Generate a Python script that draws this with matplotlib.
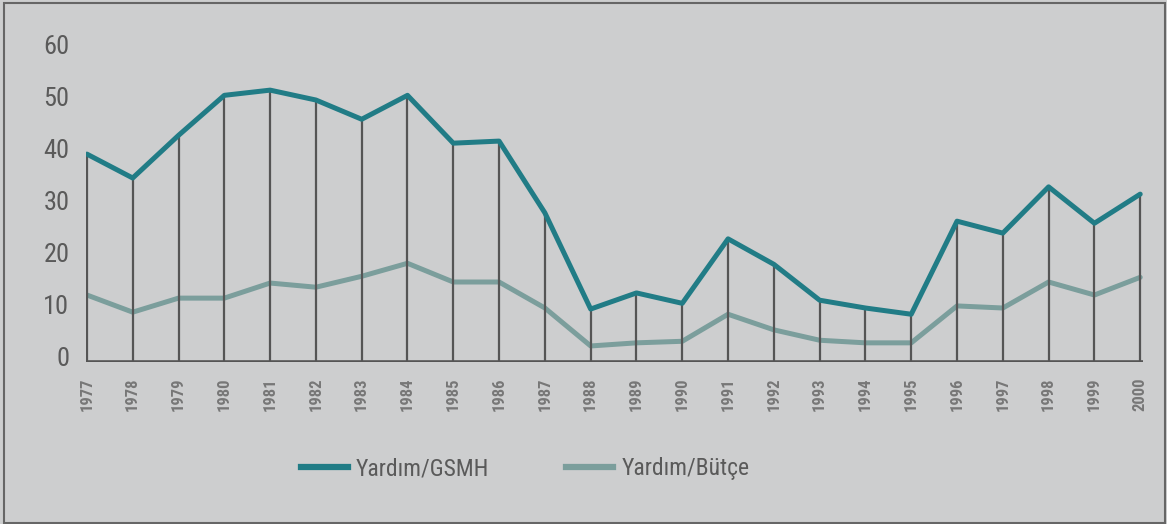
import matplotlib.pyplot as plt
from matplotlib.lines import Line2D
from matplotlib.patches import Rectangle
from matplotlib.transforms import ScaledTranslation

years = list(range(1977, 2001))
yardim_gsmh = [40.0, 35.4, 43.6, 51.3, 52.3, 50.4, 46.7, 51.3, 42.1, 42.5, 28.7, 10.2,
               13.3, 11.3, 23.7, 18.8, 11.9, 10.4, 9.2, 27.1, 24.8, 33.7, 26.7, 32.3]
yardim_butce = [12.9, 9.6, 12.3, 12.3, 15.2, 14.4, 16.5, 19.0, 15.4, 15.4, 10.4, 3.1,
                3.7, 4.0, 9.2, 6.2, 4.2, 3.7, 3.7, 10.8, 10.4, 15.4, 12.9, 16.3]
yticks = [0, 10, 20, 30, 40, 50, 60]

bg = '#cdcecf'
c_gsmh = '#217c86'
c_butce = '#7b9e9c'
c_drop = '#555555'
fonts = ['Roboto Condensed', 'Roboto', 'DejaVu Sans']

plt.rcParams['font.family'] = fonts

fig = plt.figure(figsize=(11.67, 5.24), dpi=100, facecolor=bg)
ax = fig.add_axes([0.0737, 0.309, 0.9057, 0.5954])
ax.set_facecolor(bg)

ax.plot(years, yardim_butce, color=c_butce, lw=3.6, zorder=2, solid_capstyle='round')
ax.vlines(years, 0, yardim_gsmh, color=c_drop, lw=1.6, zorder=3)
ax.plot(years, yardim_gsmh, color=c_gsmh, lw=3.6, zorder=4, solid_capstyle='round')
ax.axhline(0, color=c_drop, lw=2.6, zorder=5)

ax.set_xlim(1976.98, 2000.06)
ax.set_ylim(0, 60)
ax.set_yticks(yticks)
ax.set_xticks(years)
ax.set_xticklabels([str(y) for y in years], rotation=90, fontsize=12,
                   fontweight='bold', color='#777777')
ax.tick_params(axis='y', length=0, pad=12, labelsize=19, labelcolor='#5a5a5a')
ax.tick_params(axis='x', length=0, pad=11)
for s in ax.spines.values():
    s.set_visible(False)

# y labels sit a little above their gridline in the reference
shift = ScaledTranslation(0, 4 / 72, fig.dpi_scale_trans)
for lbl in ax.get_yticklabels():
    lbl.set_transform(lbl.get_transform() + shift)

handles = [Line2D([], [], color=c_gsmh, lw=4.5),
           Line2D([], [], color=c_butce, lw=4.5)]
fig.legend(handles, ['Yardım/GSMH', 'Yardım/Bütçe'], loc='center',
           bbox_to_anchor=(0.45, 0.105), ncol=2, frameon=False, fontsize=17,
           labelcolor='#5a5a5a', handlelength=2.0, handletextpad=0.35,
           columnspacing=3.25)

fig.patches.append(Rectangle((0.003, 0.002), 0.995, 0.993, transform=fig.transFigure,
                             fill=False, edgecolor='#666666', lw=1.5))

plt.savefig('out.png', dpi=100, facecolor=bg)
